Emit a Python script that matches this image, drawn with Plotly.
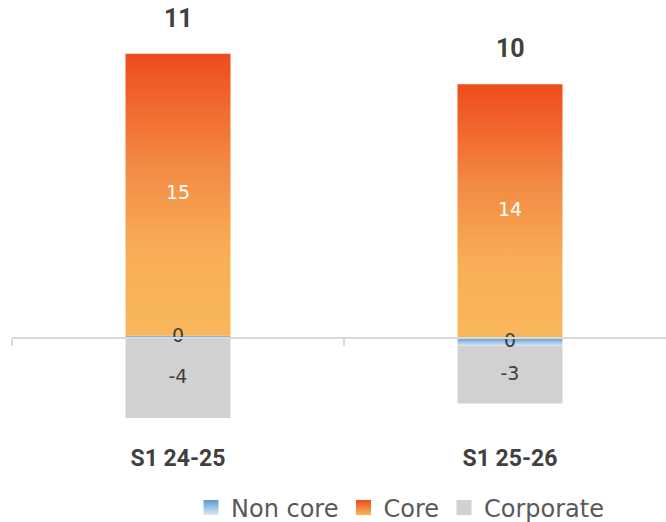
import plotly.graph_objects as go

categories = ["S1 24-25", "S1 25-26"]
non_core = [0.12, -0.43]
core = [15.0, 13.5]
corporate = [-4.25, -3.05]

series = [
    ("Non core", non_core, [[0, "#DDEAF7"], [0.5, "#9DC3E6"], [1, "#5B9BD5"]], "#404040"),
    ("Core", core, [[0, "#F9B75B"], [0.3, "#F8AE56"], [0.6, "#F38B43"], [1, "#EE4B1C"]], "#FFFFFF"),
    ("Corporate", corporate, [[0, "#D1D1D1"], [1, "#D1D1D1"]], "#404040"),
]

W, H = 666, 522
ml, mb = 12, 80
plot_h = H - mb
px_per_unit = 18.8
zero_px = 338
ymax = zero_px / px_per_unit
ymin = -(plot_h - zero_px) / px_per_unit
cat_px = 332
xr = [-0.5, -0.5 + (W - ml) / cat_px]
bw = 105 / cat_px

fig = go.Figure()

pos_top = [0.0] * len(categories)
neg_bot = [0.0] * len(categories)
label_x, label_y, label_t, label_c = [], [], [], []
for name, vals, cs, tcol in series:
    for i, v in enumerate(vals):
        if v >= 0:
            base = pos_top[i]
            pos_top[i] += v
        else:
            base = neg_bot[i]
            neg_bot[i] += v
        y0, y1 = base, base + v
        xs = [i - bw / 2, i + bw / 2, i + bw / 2, i - bw / 2, i - bw / 2]
        ys = [y0, y0, y1, y1, y0]
        fig.add_trace(go.Scatter(
            x=xs, y=ys, mode="lines", fill="toself",
            line=dict(width=0, color=cs[-1][1]),
            fillgradient=dict(type="vertical", colorscale=cs),
            fillcolor=cs[-1][1],
            name=name, legendgroup=name, showlegend=False,
            hoverinfo="skip",
        ))
        label_x.append(i)
        label_y.append((y0 + y1) / 2)
        label_t.append(str(int(round(v))))
        label_c.append(tcol)
    # legend swatch
    fig.add_trace(go.Scatter(
        x=[None], y=[None], mode="markers", name=name, legendgroup=name,
        marker=dict(symbol="square", size=15, color=cs[-1][1],
                    gradient=dict(type="vertical", color=cs[0][1])),
        hoverinfo="skip",
    ))

fig.add_trace(go.Scatter(
    x=label_x, y=label_y, mode="text", text=label_t,
    textfont=dict(family="DejaVu Sans, sans-serif", size=19, color=label_c),
    showlegend=False, hoverinfo="skip",
))

totals = [sum(s[1][i] for s in series) for i in range(len(categories))]
for i, t in enumerate(totals):
    fig.add_annotation(
        x=i, y=pos_top[i], text=f"<b>{int(round(t))}</b>",
        showarrow=False, yanchor="bottom", yshift=19,
        font=dict(family="Roboto, sans-serif", size=25, color="#404040"),
    )

fig.update_layout(
    width=W, height=H,
    margin=dict(l=ml, r=0, t=0, b=mb, autoexpand=False),
    paper_bgcolor="white", plot_bgcolor="white",
    xaxis=dict(range=xr, tickvals=list(range(len(categories))), ticktext=categories,
               showgrid=False, zeroline=False, showline=False, ticks="",
               tickfont=dict(family="Roboto, sans-serif", size=23, color="#404040", weight="bold")),
    xaxis2=dict(range=xr, overlaying="x", anchor="free",
                position=(0 - ymin) / (ymax - ymin),
                tickvals=[-0.5, 0.5, 1.5], showticklabels=False,
                ticks="outside", ticklen=7, tickwidth=2, tickcolor="#D9D9D9",
                showline=True, linecolor="#D9D9D9", linewidth=2,
                showgrid=False, zeroline=False),
    yaxis=dict(range=[ymin, ymax], visible=False, showgrid=False, zeroline=False),
    legend=dict(orientation="h",
                x=(191 - ml) / (W - ml), xanchor="left",
                y=-(508 - plot_h) / plot_h, yanchor="middle",
                font=dict(family="DejaVu Sans, sans-serif", size=24, color="#595959"),
                itemwidth=30, tracegroupgap=0, borderwidth=0),
    showlegend=True,
)
fig.add_trace(go.Scatter(x=[0], y=[0], xaxis="x2", mode="markers",
                         marker=dict(opacity=0), showlegend=False, hoverinfo="skip"))

fig.write_html("out.html", config={"displayModeBar": False},
               post_script="document.body.style.margin='0';document.body.style.overflow='hidden';")
